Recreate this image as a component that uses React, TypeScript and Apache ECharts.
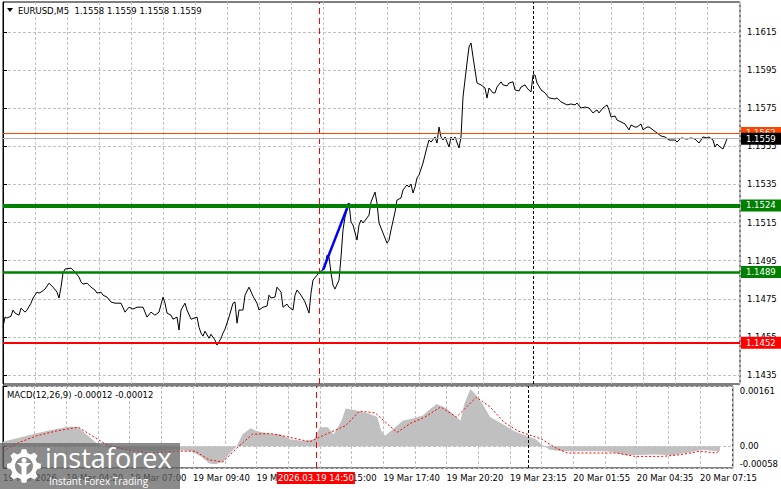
import { useEffect, useRef } from 'react';
import * as echarts from 'echarts';

const FONT = "'DejaVu Sans', Tahoma, sans-serif";
const FS = 8.5;

const headerText = 'EURUSD,M5  1.1558 1.1559 1.1558 1.1559';
const macdHeader = 'MACD(12,26,9) -0.00012 -0.00012';

// [bar index, close]
const pricePoints: [number, number][] = [
  [0,1.14601],[1,1.14654],[2,1.14649],[4,1.14659],[5,1.14691],[6,1.14675],[8,1.14664],[9,1.14701],[11,1.14680],[12,1.14691],[14,1.14727],[15,1.14754],[17,1.14785],[18,1.14780],[19,1.14785],[21,1.14801],[23,1.14832],[25,1.14811],[27,1.14785],[28,1.14754],[29,1.14811],[30,1.14885],[31,1.14906],[34,1.14911],[36,1.14890],[38,1.14864],[39,1.14838],[40,1.14827],[42,1.14832],[44,1.14811],[46,1.14796],[47,1.14780],[49,1.14785],[50,1.14769],[52,1.14759],[54,1.14733],[56,1.14727],[59,1.14727],[61,1.14680],[63,1.14706],[65,1.14696],[67,1.14706],[70,1.14706],[72,1.14654],[74,1.14680],[76,1.14664],[78,1.14680],[80,1.14759],[81,1.14727],[82,1.14675],[84,1.14664],[85,1.14643],[87,1.14654],[88,1.14586],[89,1.14691],[91,1.14727],[92,1.14691],[94,1.14643],[97,1.14654],[98,1.14601],[99,1.14570],[100,1.14554],[101,1.14580],[103,1.14543],[104,1.14564],[106,1.14533],[107,1.14507],[109,1.14543],[110,1.14570],[111,1.14591],[113,1.14654],[115,1.14727],[116,1.14733],[117,1.14622],[118,1.14691],[120,1.14691],[121,1.14769],[123,1.14811],[125,1.14764],[127,1.14727],[128,1.14691],[130,1.14706],[132,1.14712],[133,1.14769],[134,1.14754],[136,1.14759],[137,1.14811],[139,1.14785],[140,1.14706],[142,1.14722],[143,1.14706],[145,1.14691],[146,1.14769],[147,1.14796],[149,1.14769],[151,1.14733],[153,1.14675],[154,1.14780],[155,1.14848],[157,1.14874],[158,1.14890],[160,1.14901],[161,1.14916],[162,1.14979],[163,1.14969],[164,1.14885],[165,1.14822],[166,1.14801],[168,1.14848],[169,1.14969],[170,1.15111],[171,1.15179],[172,1.15216],[173,1.15252],[174,1.15153],[175,1.15137],[177,1.15058],[178,1.15137],[179,1.15163],[180,1.15148],[182,1.15174],[183,1.15189],[184,1.15258],[186,1.15310],[187,1.15252],[188,1.15148],[190,1.15095],[192,1.15042],[193,1.15058],[194,1.15111],[196,1.15205],[197,1.15268],[199,1.15279],[200,1.15321],[202,1.15347],[203,1.15336],[204,1.15352],[205,1.15305],[206,1.15336],[207,1.15384],[208,1.15399],[210,1.15462],[212,1.15546],[213,1.15583],[214,1.15572],[216,1.15599],[217,1.15567],[218,1.15651],[219,1.15599],[220,1.15583],[221,1.15599],[223,1.15546],[224,1.15599],[225,1.15583],[226,1.15599],[228,1.15541],[229,1.15599],[230,1.15809],[232,1.15987],[233,1.16071],[234,1.16092],[235,1.16019],[236,1.15950],[237,1.15882],[239,1.15872],[241,1.15856],[242,1.15803],[243,1.15856],[245,1.15830],[246,1.15830],[247,1.15861],[249,1.15888],[250,1.15872],[252,1.15867],[253,1.15882],[255,1.15888],[256,1.15846],[258,1.15840],[259,1.15861],[261,1.15872],[262,1.15856],[264,1.15835],[265,1.15924],[266,1.15924],[267,1.15882],[269,1.15846],[271,1.15830],[273,1.15804],[276,1.15798],[277,1.15804],[279,1.15783],[282,1.15767],[284,1.15772],[286,1.15767],[287,1.15777],[289,1.15751],[291,1.15756],[293,1.15751],[295,1.15725],[297,1.15741],[298,1.15725],[300,1.15751],[302,1.15767],[303,1.15741],[304,1.15704],[306,1.15709],[307,1.15688],[309,1.15678],[311,1.15667],[313,1.15636],[314,1.15662],[316,1.15651],[317,1.15651],[319,1.15667],[320,1.15636],[322,1.15651],[323,1.15651],[325,1.15636],[327,1.15620],[329,1.15604],[331,1.15599],[333,1.15583],[336,1.15583],[337,1.15572],[339,1.15594],[342,1.15588],[344,1.15594],[346,1.15588],[348,1.15567],[350,1.15599],[352,1.15594],[353,1.15599],[355,1.15583],[356,1.15546],[357,1.15562],[358,1.15551],[360,1.15536],[361,1.15562],[362,1.15590]
];

// MACD main (histogram) [bar, value]
const macdMain: [number, number][] = [
  [0,0.00012],[8,0.00023],[15,0.00032],[22,0.00041],[27,0.00046],[34,0.00053],[38,0.00051],[41,0.00037],[45,0.00019],[48,0.00005],[53,-0.00004],[62,-0.00009],[77,-0.00013],[88,-0.00009],[95,-0.00013],[100,-0.00027],[104,-0.00045],[107,-0.00048],[111,-0.00042],[114,-0.00022],[118,0.0],[121,0.00032],[125,0.00048],[128,0.00041],[136,0.00032],[140,0.00032],[145,0.00019],[152,0.00014],[157,0.00019],[160,0.00051],[164,0.00051],[167,0.00032],[171,0.00069],[173,0.00101],[178,0.00096],[185,0.00087],[189,0.00078],[191,0.00041],[193,0.00028],[197,0.00046],[202,0.00069],[206,0.00073],[212,0.00082],[216,0.00101],[219,0.00113],[224,0.00101],[228,0.00082],[231,0.00069],[233,0.00114],[236,0.00153],[238,0.00142],[242,0.00114],[246,0.00078],[252,0.00060],[258,0.00041],[264,0.00028],[269,0.00019],[272,0.00005],[276,-0.00009],[282,-0.00013],[294,-0.00013],[305,-0.00013],[315,-0.00024],[329,-0.00022],[338,-0.00024],[345,-0.00018],[353,-0.00009],[361,-0.00013],[362,-0.00012]
];

// MACD signal [bar, value]
const macdSignal: [number, number][] = [
  [0,-0.00013],[8,0.0001],[17,0.00028],[27,0.00041],[38,0.00051],[45,0.00028],[52,0.00005],[62,-0.00009],[74,-0.00018],[88,-0.00013],[97,-0.00013],[104,-0.00036],[111,-0.00042],[119,0.0],[126,0.00032],[135,0.00034],[144,0.00025],[155,0.00012],[163,0.00032],[173,0.00055],[180,0.00094],[188,0.00089],[194,0.0006],[199,0.00037],[206,0.00062],[213,0.00078],[221,0.00105],[229,0.00078],[239,0.00131],[246,0.00105],[253,0.00064],[260,0.00041],[272,0.00019],[279,-0.00004],[285,-0.00018],[295,-0.00018],[310,-0.00018],[319,-0.00027],[333,-0.00027],[343,-0.00022],[352,-0.00013],[360,-0.00018],[362,-0.00012]
];

const trendBars = [160, 173];
const trendPrices = [1.14901, 1.15252];

const priceTicks = [1.1435, 1.1455, 1.1475, 1.1495, 1.1515, 1.1535, 1.1555, 1.1575, 1.1595, 1.1615];
const macdTicks = [-0.00058, 0, 0.00161];
const timeLabels = ['19 Mar 2026', '19 Mar 04:20', '19 Mar 07:00', '19 Mar 09:40', '19 Mar 12:20', '19 Mar 15:00', '19 Mar 17:40', '19 Mar 20:20', '19 Mar 23:15', '20 Mar 01:55', '20 Mar 04:35', '20 Mar 07:15'];

const greenThick = 1.1524;
const greenThin = 1.1489;
const redLevel = 1.1452;
const bidPrice = 1.1559;
const askPrice = 1.1562;
const crossBar = 158;
const crossLabel = '2026.03.19 14:50';
const sessionBar = 265;

const X_MAX = 368.5;

function levelLabel(bg: string) {
  return {
    show: true,
    position: 'end' as const,
    distance: 1,
    formatter: (p: any) => Number(p.value).toFixed(4),
    backgroundColor: bg,
    color: '#fff',
    fontFamily: FONT,
    fontSize: FS,
    padding: [2, 8, 1, 5],
  };
}

function gearPoints(cx: number, cy: number, R: number, r: number, teeth: number) {
  const pts: number[][] = [];
  const s = (Math.PI * 2) / teeth;
  for (let i = 0; i < teeth; i++) {
    const a = i * s - Math.PI / 2;
    const angs: [number, number][] = [
      [a - s * 0.17, R], [a + s * 0.17, R], [a + s * 0.32, r], [a + s * 0.68, r],
    ];
    angs.forEach(([t, rad]) => pts.push([cx + rad * Math.cos(t), cy + rad * Math.sin(t)]));
  }
  return pts;
}

export default function App() {
  const ref = useRef<HTMLDivElement>(null);
  useEffect(() => {
    const chart = echarts.init(ref.current!, null, { renderer: 'svg', width: 781, height: 489 });
    const axisText = { fontFamily: FONT, fontSize: FS, color: '#000' };
    const gridDash = { color: '#c0c0c0', type: [3, 2] as number[], width: 1 };
    const option: any = {
      animation: false,
      backgroundColor: '#fff',
      grid: [
        { left: 3, top: 2, width: 737, height: 382, show: true, borderColor: '#000', borderWidth: 1, backgroundColor: '#fff' },
        { left: 3, top: 386, width: 737, height: 82, show: true, borderColor: '#000', borderWidth: 1, backgroundColor: '#fff' },
      ],
      xAxis: [
        {
          type: 'value', gridIndex: 0, min: 0, max: X_MAX, interval: 16,
          axisLabel: { show: false }, axisTick: { show: false }, axisLine: { show: false },
          splitLine: { show: true, lineStyle: gridDash },
        },
        {
          type: 'value', gridIndex: 1, min: 0, max: X_MAX, interval: 16,
          axisLabel: {
            ...axisText, align: 'left', margin: 5, showMaxLabel: false,
            formatter: (v: number) => (v % 32 === 0 && timeLabels[v / 32]) ? timeLabels[v / 32] : '',
          },
          axisTick: { show: false }, axisLine: { show: false },
          splitLine: { show: true, lineStyle: gridDash },
        },
      ],
      yAxis: [
        {
          type: 'value', gridIndex: 0, position: 'right', min: 1.14303, max: 1.16307, scale: true,
          axisLine: { show: true, lineStyle: { color: '#000' } },
          axisTick: { show: true, customValues: priceTicks, length: 4, lineStyle: { color: '#000' } },
          axisLabel: { ...axisText, customValues: priceTicks, margin: 7, formatter: (v: number) => v.toFixed(4) },
          splitLine: { show: true, lineStyle: gridDash },
        },
        {
          type: 'value', gridIndex: 1, position: 'right', min: -0.00058, max: 0.00161,
          axisLine: { show: true, lineStyle: { color: '#000' } },
          axisTick: { show: true, customValues: macdTicks, length: 4, lineStyle: { color: '#000' } },
          axisLabel: {
            ...axisText, customValues: macdTicks, margin: 7,
            verticalAlignMinLabel: 'bottom', verticalAlignMaxLabel: 'top',
            formatter: (v: number) => (v === 0 ? '0.00' : v.toFixed(5)),
          },
          splitLine: { show: true, lineStyle: gridDash },
        },
      ],
      series: [
        {
          type: 'line', name: 'EURUSD', xAxisIndex: 0, yAxisIndex: 0, data: pricePoints,
          showSymbol: false, symbol: 'none', clip: false, z: 3,
          lineStyle: { color: '#000', width: 1 },
          markLine: {
            silent: true, symbol: ['none', 'none'], animation: false, precision: 5,
            data: [
              { xAxis: crossBar, lineStyle: { color: '#ff0000', type: [6, 4], width: 1 }, label: { show: false } },
              { xAxis: sessionBar, lineStyle: { color: '#000', type: [3, 2], width: 1 }, label: { show: false } },
              { yAxis: askPrice, lineStyle: { color: '#ff4500', type: 'solid', width: 1 }, label: levelLabel('#ff4500') },
              { yAxis: bidPrice, lineStyle: { color: '#b4b4b4', type: 'solid', width: 1 }, label: levelLabel('#000') },
              { yAxis: greenThick, lineStyle: { color: '#008000', type: 'solid', width: 4 }, label: levelLabel('#008000') },
              { yAxis: greenThin, lineStyle: { color: '#008000', type: 'solid', width: 2.5 }, label: levelLabel('#008000') },
              { yAxis: redLevel, lineStyle: { color: '#ff0000', type: 'solid', width: 2 }, label: levelLabel('#ff0000') },
            ],
          },
        },
        {
          type: 'line', name: 'Trend', xAxisIndex: 0, yAxisIndex: 0, z: 4,
          data: trendBars.map((b, i) => [b, trendPrices[i]]),
          showSymbol: false, symbol: 'none',
          lineStyle: { color: '#0000ff', width: 2.5 },
        },
        {
          type: 'line', name: 'MACD', xAxisIndex: 1, yAxisIndex: 1, data: macdMain,
          showSymbol: false, symbol: 'none', z: 2,
          lineStyle: { width: 0, color: '#c0c0c0' },
          areaStyle: { color: '#c0c0c0', opacity: 1, origin: 0 },
          markLine: {
            silent: true, symbol: ['none', 'none'], animation: false, precision: 5,
            data: [
              { xAxis: crossBar, lineStyle: { color: '#ff0000', type: [6, 4], width: 1 }, label: { show: false } },
              { xAxis: sessionBar, lineStyle: { color: '#000', type: [3, 2], width: 1 }, label: { show: false } },
            ],
          },
        },
        {
          type: 'line', name: 'Signal', xAxisIndex: 1, yAxisIndex: 1, data: macdSignal,
          showSymbol: false, symbol: 'none', z: 3,
          lineStyle: { color: '#ff0000', width: 1, type: [2, 2] },
        },
      ],
      graphic: [
        { id: 'tri', type: 'polygon', z: 100, shape: { points: [[7, 8], [13, 8], [10, 12]] }, style: { fill: '#000' } },
        { id: 'hdr', type: 'text', z: 100, x: 18, y: 11, style: { text: headerText, fill: '#000', font: `${FS}px ${FONT}`, verticalAlign: 'middle' } },
        { id: 'macdHdr', type: 'text', z: 100, x: 7, y: 395, style: { text: macdHeader, fill: '#000', font: `${FS}px ${FONT}`, verticalAlign: 'middle' } },
        {
          id: 'logo', type: 'group', z: 100,
          children: [
            { type: 'rect', z: 100, shape: { x: 0, y: 443, width: 180, height: 46 }, style: { fill: 'rgba(100,100,100,0.75)' } },
            { type: 'polygon', z: 101, shape: { points: gearPoints(24, 466, 17, 13.5, 8) }, style: { fill: '#fff' } },
            { type: 'circle', z: 102, shape: { cx: 24, cy: 466, r: 9 }, style: { fill: '#8a8a8a' } },
            { type: 'circle', z: 103, shape: { cx: 24, cy: 460.5, r: 2.6 }, style: { fill: '#fff' } },
            { type: 'polygon', z: 103, shape: { points: [[17, 463], [31, 463], [26.5, 467], [26.5, 476], [21.5, 476], [21.5, 467]] }, style: { fill: '#fff' } },
            { type: 'text', z: 103, x: 45, y: 471, style: { text: 'instaforex', fill: '#fff', font: `27px 'Open Sans', sans-serif`, verticalAlign: 'bottom' } },
            { type: 'text', z: 103, x: 49, y: 481, style: { text: 'Instant Forex Trading', fill: '#fff', font: `10px 'Open Sans', sans-serif`, verticalAlign: 'middle' } },
          ],
        },
        {
          id: 'crossLbl', type: 'group', z: 110, x: 0, y: 0,
          children: [
            { type: 'rect', z: 110, shape: { x: -39, y: 472, width: 78, height: 12 }, style: { fill: '#ff0000' } },
            { type: 'text', z: 111, x: 0, y: 478, style: { text: crossLabel, fill: '#fff', font: `${FS}px ${FONT}`, align: 'center', verticalAlign: 'middle' } },
          ],
        },
      ],
    };
    chart.setOption(option);
    const px = chart.convertToPixel({ xAxisIndex: 1 }, crossBar) as number;
    chart.setOption({ graphic: [{ id: 'crossLbl', x: px }] });
    return () => chart.dispose();
  }, []);
  return <div ref={ref} style={{ position: 'fixed', left: 0, top: 0, width: 781, height: 489 }} />;
}
